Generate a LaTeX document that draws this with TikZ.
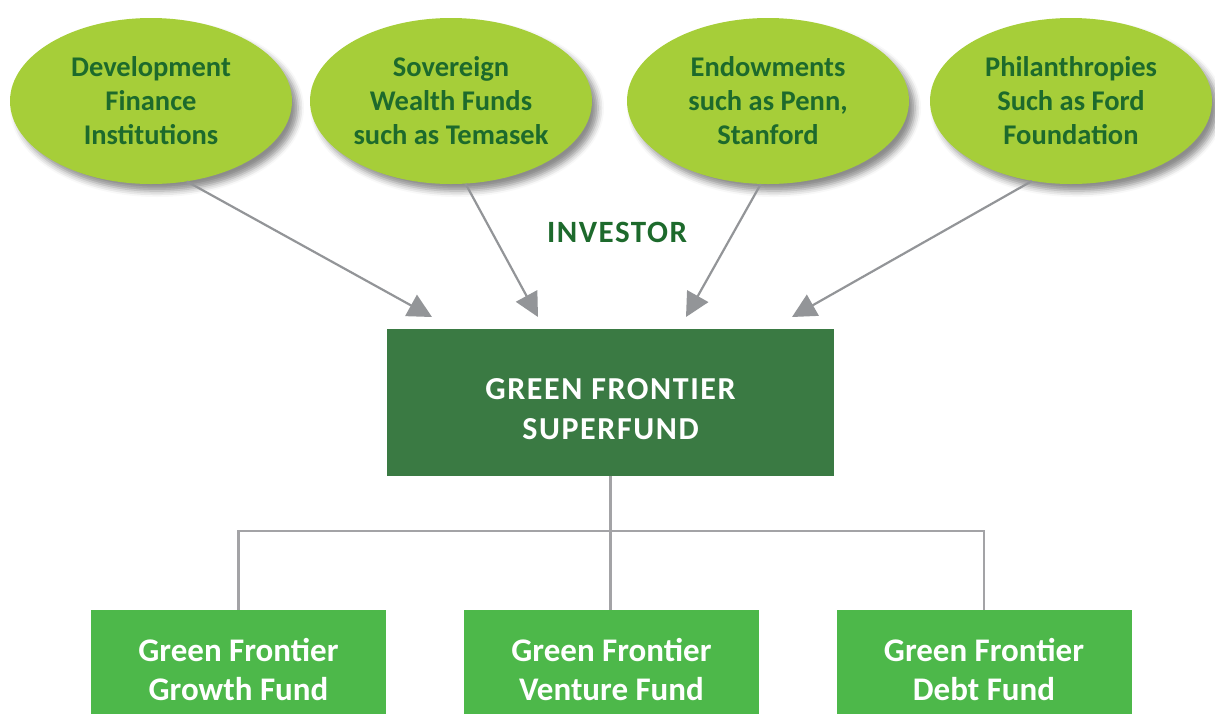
\documentclass[tikz,border=0pt]{standalone}
\usepackage{fontspec}
\setmainfont{Carlito}
\newfontfamily\spacedfont{Carlito}[LetterSpace=5]
\usepackage{tikz}
\usetikzlibrary{shapes.geometric, arrows.meta, shadows.blur}
\definecolor{limegreen}{HTML}{A6CE39}
\definecolor{darkgreen}{HTML}{1D6A2C}
\definecolor{supergreen}{HTML}{3A7A43}
\definecolor{fundgreen}{HTML}{4DB84A}
\definecolor{arrowgrey}{HTML}{939598}
\definecolor{linegrey}{HTML}{A3A3A6}
\tikzstyle{investor} = [ellipse, fill=limegreen, minimum width=282pt, minimum height=166pt, inner sep=0pt, align=center, text=darkgreen, font=\fontsize{28.5}{34}\selectfont\bfseries, blur shadow={shadow xshift=6pt, shadow yshift=-7pt, shadow blur radius=6pt, shadow opacity=45}]
\tikzstyle{superbox} = [rectangle, fill=supergreen, minimum width=447pt, minimum height=147pt, inner sep=0pt, align=center, text=white, font=\spacedfont\fontsize{32}{40}\selectfont\bfseries]
\tikzstyle{fundbox} = [rectangle, fill=fundgreen, minimum width=295pt, minimum height=120pt, inner sep=0pt, align=center, text=white, font=\fontsize{33}{39}\selectfont\bfseries]
\tikzstyle{arrow} = [draw, line width=2.2pt, color=arrowgrey, -{Triangle[length=24pt,width=24pt]}]
\tikzstyle{line} = [draw, line width=2.2pt, color=linegrey]

\begin{document}
\begin{tikzpicture}[x=1pt, y=-1pt]
			\useasboundingbox (0,0) rectangle (1215,713);
			\clip (0,0) rectangle (1215,713);
			\node [investor] (dfi) at (151, 101) {Development\\Finance\\Institutions};
			\node [investor] (swf) at (451, 101) {Sovereign\\Wealth Funds\\such as Temasek};
			\node [investor] (endow) at (768, 101) {Endowments\\such as Penn,\\Stanford};
			\node [investor] (phil) at (1071, 101) {Philanthropies\\Such as Ford\\Foundation};
			\node [text=darkgreen, font=\spacedfont\fontsize{31}{34}\selectfont\bfseries] (investor) at (617, 232) {INVESTOR};
			
			\node [superbox, text height=74pt] (super) at (610.5, 402.5) {GREEN FRONTIER\\SUPERFUND};
			\node [fundbox] (growth) at (238.5, 670) {Green Frontier\\Growth Fund};
			\node [fundbox] (venture) at (611.5, 670) {Green Frontier\\Venture Fund};
			\node [fundbox] (debt) at (984, 670) {Green Frontier\\Debt Fund};
			
			\coordinate (in1) at (432, 317);
			\coordinate (in2) at (538, 317);
			\coordinate (in3) at (686, 317);
			\coordinate (in4) at (792, 317);
			\coordinate (split) at (610.5, 531);
			
			\path [arrow] (dfi.-66) -- (in1);
			\path [arrow] (swf.-80) -- (in2);
			\path [arrow] (endow.-95) -- (in3);
			\path [arrow] (phil.-116) -- (in4);
			
			\path [line] (super.south) -- (super.south |- venture.north);
			\path [line] (growth.north) |- (split) -| (debt.north);
		\end{tikzpicture}
\end{document}
